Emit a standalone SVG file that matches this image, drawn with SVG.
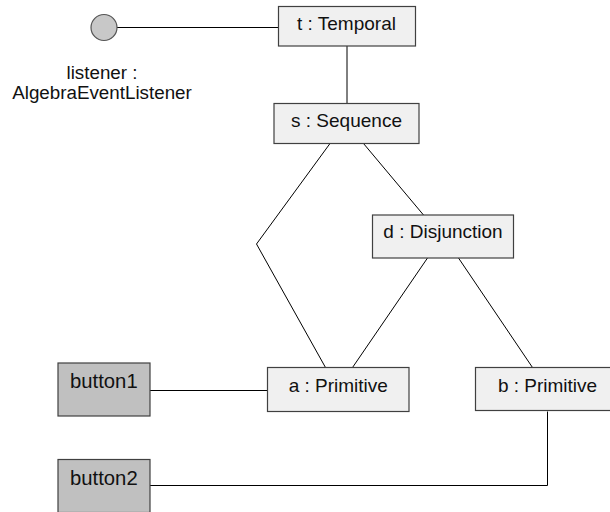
<svg xmlns="http://www.w3.org/2000/svg" width="610" height="512" viewBox="0 0 610 512">
  <style>
    .obj rect { fill: #f0f0f0; stroke: #404040; stroke-width: 1.2; }
    .btn rect { fill: #c0c0c0; stroke: #404040; stroke-width: 1.2; }
    text { font-family: "Liberation Sans", Arial, sans-serif; fill: #111; }
    .obj text { font-size: 19px; text-anchor: middle; }
    .btn text { font-size: 20.3px; }
    .lbl { font-size: 18.8px; text-anchor: middle; }
    .conn path, .conn line { fill: none; stroke: #000; stroke-width: 1; }
  </style>

  <!-- connectors -->
  <g id="connectors" class="conn">
    <line x1="117" y1="27.5" x2="278" y2="27.5"/>
    <line x1="347" y1="46" x2="347" y2="103.5"/>
    <path d="M330,143.5 L256.5,244 L325.5,367.5"/>
    <line x1="363.5" y1="143.5" x2="423.5" y2="215"/>
    <line x1="427.5" y1="258" x2="352.5" y2="367.5"/>
    <line x1="458.5" y1="258" x2="532.5" y2="367.5"/>
    <line x1="150" y1="390.5" x2="267.5" y2="390.5"/>
    <path d="M150,485.5 H547.5 V411.5"/>
  </g>

  <!-- listener interface -->
  <g id="listener">
    <circle cx="104" cy="27.5" r="13" fill="#c8c8c8" stroke="#555" stroke-width="1.2"/>
    <text class="lbl" x="102" y="79">listener :</text>
    <text class="lbl" x="102" y="99">AlgebraEventListener</text>
  </g>

  <g id="temporal" class="obj">
    <rect x="278.5" y="6.5" width="137" height="39.5"/>
    <text x="346.5" y="29.5">t : Temporal</text>
  </g>

  <g id="sequence" class="obj">
    <rect x="274" y="103.5" width="145" height="40"/>
    <text x="346.5" y="126.7">s : Sequence</text>
  </g>

  <g id="disjunction" class="obj">
    <rect x="372.5" y="215" width="141" height="43"/>
    <text x="443" y="237.7">d : Disjunction</text>
  </g>

  <g id="primitiveA" class="obj">
    <rect x="267.5" y="367.5" width="141.5" height="44"/>
    <text x="338.3" y="391.7">a : Primitive</text>
  </g>

  <g id="primitiveB" class="obj">
    <rect x="475.5" y="367.5" width="144" height="43"/>
    <text x="547.5" y="391.7">b : Primitive</text>
  </g>

  <g id="button1" class="btn">
    <rect x="58" y="363" width="92" height="53"/>
    <text x="70" y="388">button1</text>
  </g>

  <g id="button2" class="btn">
    <rect x="58" y="459.5" width="92" height="53"/>
    <text x="70" y="485">button2</text>
  </g>
</svg>
